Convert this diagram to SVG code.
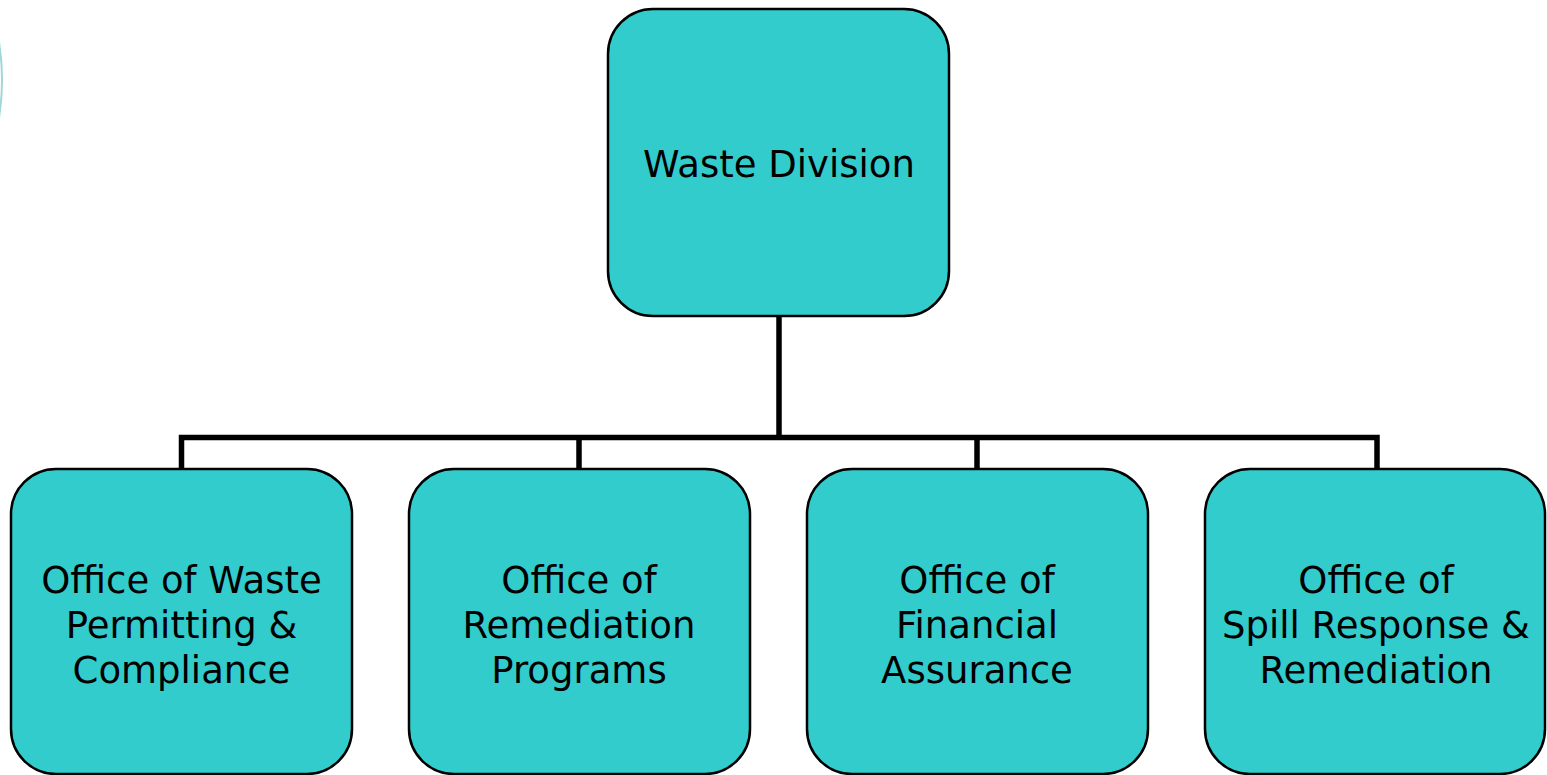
<svg xmlns="http://www.w3.org/2000/svg" width="1547" height="775" viewBox="0 0 1547 775">
<style>
.box{fill:#33cccc;stroke:#000;stroke-width:2.5}
.lbl{font-family:"DejaVu Sans","Verdana",sans-serif;font-size:37px;fill:#000;text-anchor:middle}
.conn{fill:none;stroke:#000;stroke-width:5.5}
</style>
<rect width="1547" height="775" fill="#fff"/>
<circle cx="-239" cy="80" r="241" fill="none" stroke="#9fd6d6" stroke-width="2"/>
<g id="connectors">
<path class="conn" d="M779 316V437.5M181.5 469V437.5H1377V469M579 437.5V469M977 437.5V469"/>
</g>
<g id="waste-division">
<rect class="box" x="608" y="9" width="341" height="307" rx="45"/>
<text class="lbl" x="779" y="177">Waste Division</text>
</g>
<g id="office-waste-permitting">
<rect class="box" x="11" y="469" width="341" height="305" rx="45"/>
<text class="lbl" x="181.5" y="593">Office of Waste</text>
<text class="lbl" x="181.5" y="638">Permitting &amp;</text>
<text class="lbl" x="181.5" y="683">Compliance</text>
</g>
<g id="office-remediation-programs">
<rect class="box" x="409" y="469" width="341" height="305" rx="45"/>
<text class="lbl" x="579" y="593">Office of</text>
<text class="lbl" x="579" y="638">Remediation</text>
<text class="lbl" x="579" y="683">Programs</text>
</g>
<g id="office-financial-assurance">
<rect class="box" x="807" y="469" width="341" height="305" rx="45"/>
<text class="lbl" x="977" y="593">Office of</text>
<text class="lbl" x="977" y="638">Financial</text>
<text class="lbl" x="977" y="683">Assurance</text>
</g>
<g id="office-spill-response">
<rect class="box" x="1205" y="469" width="340" height="305" rx="45"/>
<text class="lbl" x="1376" y="593">Office of</text>
<text class="lbl" x="1376" y="638">Spill Response &amp;</text>
<text class="lbl" x="1376" y="683">Remediation</text>
</g>
</svg>
